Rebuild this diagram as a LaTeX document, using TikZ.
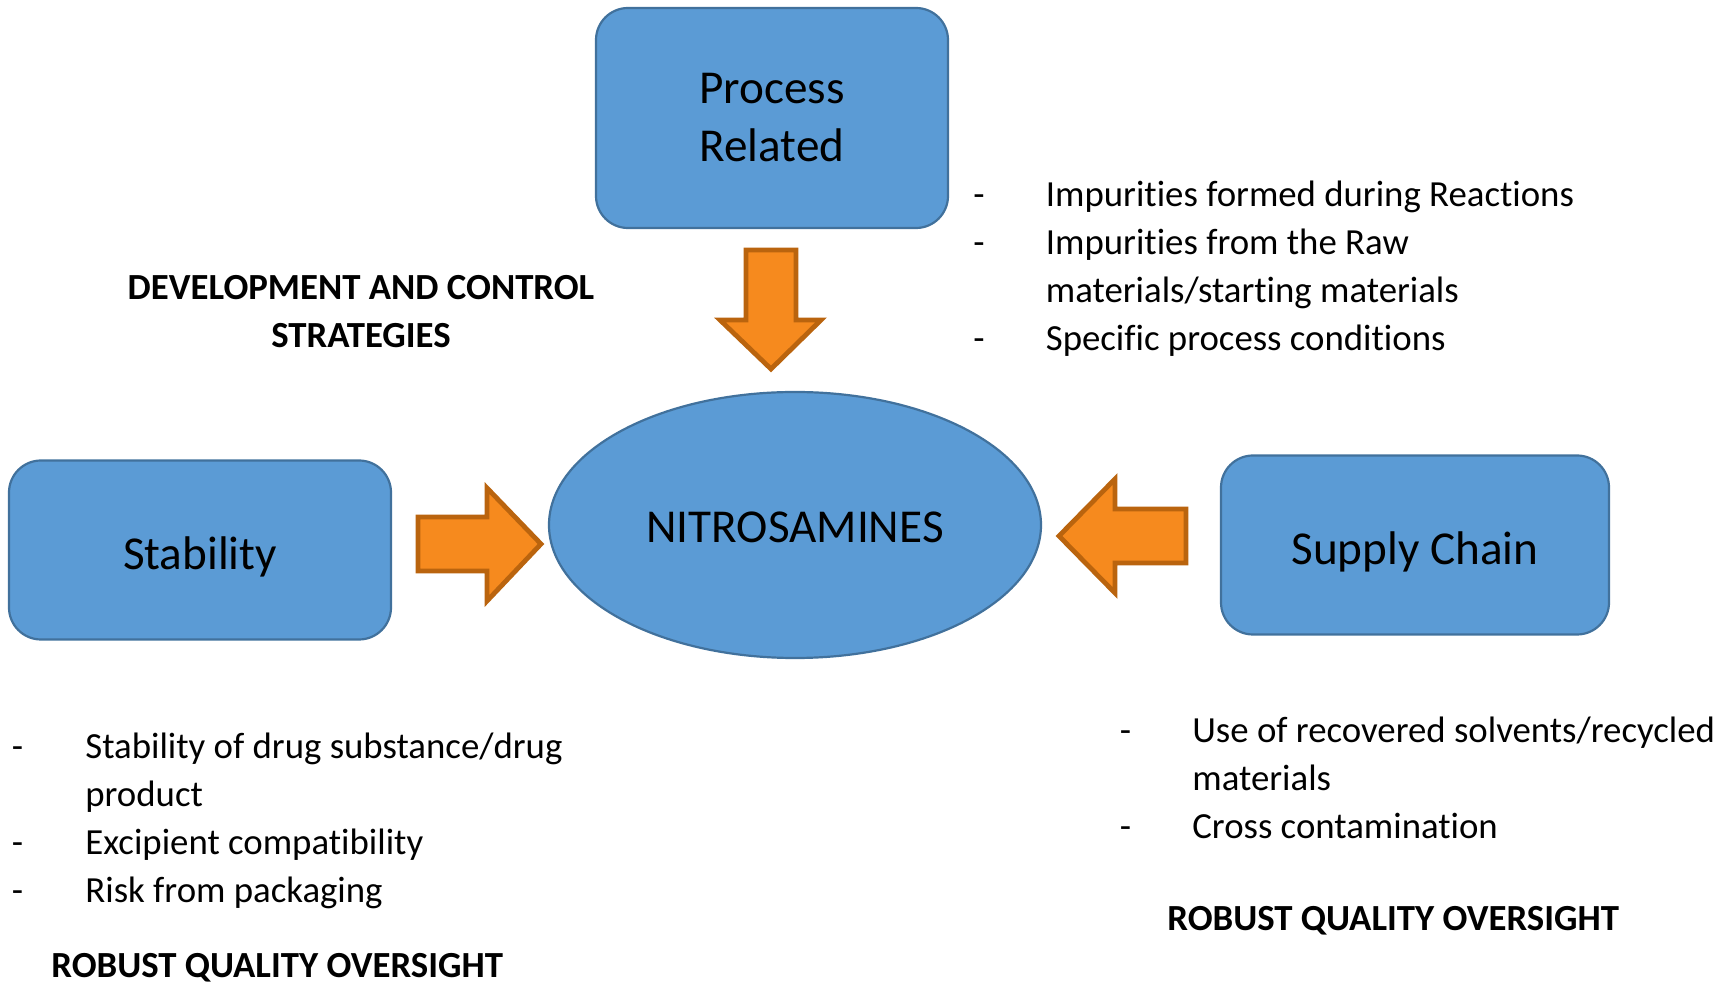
\documentclass[tikz,border=0pt]{standalone}
\usepackage{fontspec}
\setmainfont{Carlito}[Ligatures=NoCommon]
\usetikzlibrary{shapes.geometric}
\definecolor{boxblue}{HTML}{5B9BD5}
\definecolor{boxedge}{HTML}{41719C}
\definecolor{arrorange}{HTML}{F68A1E}
\definecolor{arredge}{HTML}{BA640E}
\newcommand\bigtxt{\fontsize{23.6}{29}\selectfont}
\newcommand\smalltxt{\fontsize{18.4}{24}\selectfont}
\tikzset{every node/.style={inner sep=0pt},line cap=round,line join=round,
  topicbox/.style={draw=boxedge,fill=boxblue,line width=1.1pt,rounded corners=16pt,font=\bigtxt,align=center},
  oneline/.style={text height=#1,text depth=0pt},
  hub/.style={ellipse,draw=boxedge,fill=boxblue,line width=1.1pt,font=\bigtxt},
  blockarrow/.style={draw=arredge,fill=arrorange,line width=2.4pt,line join=miter},
  notes/.style={anchor=base west,font=\smalltxt},
  heading/.style={font=\smalltxt\bfseries}}

\begin{document}
\begin{tikzpicture}[x=0.5pt,y=-0.5pt]
  \path[use as bounding box] (0,0) rectangle (1731,988);
  % topics
  \node[topicbox,minimum width=176pt,minimum height=110pt] (proc) at (772,118) {Process\\Related};
  \node[hub,oneline=17.5pt,minimum width=246pt,minimum height=133pt] (nitro) at (795,525) {NITROSAMINES};
  \node[topicbox,oneline=19.7pt,minimum width=191pt,minimum height=89.5pt] (stab) at (200,550) {Stability};
  \node[topicbox,oneline=19.2pt,minimum width=194pt,minimum height=89.5pt] (supply) at (1415,545) {Supply Chain};
  % block arrows
  \draw[blockarrow] (746,250)--(796,250)--(796,320)--(821,320)--(771,369)--(720,320)--(746,320)--cycle;
  \draw[blockarrow] (418,517)--(487,517)--(487,488)--(541,544)--(487,601)--(487,571)--(418,571)--cycle;
  \draw[blockarrow] (1186,509)--(1115,509)--(1115,479)--(1059,536)--(1115,593)--(1115,563)--(1186,563)--cycle;
  % texts
  \node[heading,align=center] (dev) at (361,312) {DEVELOPMENT AND CONTROL\\STRATEGIES};
  \node[notes] (procnotes) at (973,207) {\begin{tabular}[t]{@{}p{36.25pt}@{}l@{}}
    - & Impurities formed during Reactions\\
    - & Impurities from the Raw\\
      & materials/starting materials\\
    - & Specific process conditions
  \end{tabular}};
  \node[notes] (stabnotes) at (11.5,759) {\begin{tabular}[t]{@{}p{36.75pt}@{}l@{}}
    - & Stability of drug substance/drug\\
      & product\\
    - & Excipient compatibility\\
    - & Risk from packaging
  \end{tabular}};
  \node[notes] (supplynotes) at (1119.5,743) {\begin{tabular}[t]{@{}p{36.25pt}@{}l@{}}
    - & Use of recovered solvents/recycled\\
      & materials\\
    - & Cross contamination
  \end{tabular}};
  \node[heading,anchor=base west] (leftqa) at (51,978) {ROBUST QUALITY OVERSIGHT};
  \node[heading,anchor=base west] (rightqa) at (1167,930) {ROBUST QUALITY OVERSIGHT};
\end{tikzpicture}
\end{document}
